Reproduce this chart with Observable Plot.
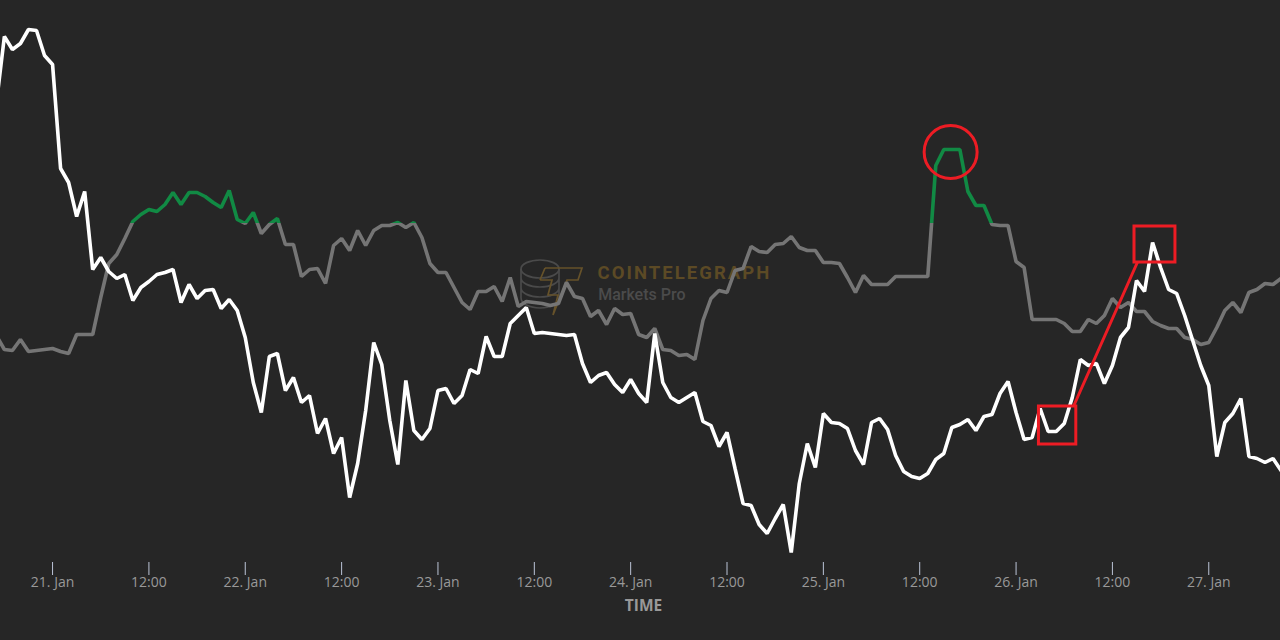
<!DOCTYPE html>
<html>
<head>
<meta charset="utf-8">
<script src="https://cdn.jsdelivr.net/npm/d3@7"></script>
<script src="https://cdn.jsdelivr.net/npm/@observablehq/plot@0.6"></script>
<style>
  html, body { margin: 0; padding: 0; background: #262626; width: 1280px; height: 640px; overflow: hidden; }
  #wrap { position: relative; width: 1280px; height: 640px; }
  #logo, #wrap svg.chart { position: absolute; left: 0; top: 0; }
</style>
</head>
<body>
<div id="wrap">
<svg id="logo" width="1280" height="640" fill="none" stroke-width="1.7">
  <g stroke="#4a4a4a">
    <ellipse cx="540" cy="269" rx="19" ry="9"/>
    <path d="M521 269V298M559 269V298M521 278a19 9 0 0 0 38 0M521 288a19 9 0 0 0 38 0M521 298a19 10 0 0 0 38 0"/>
  </g>
  <path stroke="#66522a" d="M545 268H582L578 280H567L553 315L558 295M540 280H552L548 295H559M545 268L540 280"/>
</svg>
</div>
<script>
const startTime = Date.UTC(2022, 0, 20, 17);
const domainStart = new Date(Date.UTC(2022, 0, 20, 17, 31));
const domainEnd = new Date(Date.UTC(2022, 0, 27, 8, 56));

const sentimentValues = [537,604,591,597,611,610,585,576,472,458,424,449,371,383,369,362,366,340,353,359,366,368,371,338,356,342,350,351,332,341,330,303,258,228,284,287,250,263,238,245,207,222,187,203,143,177,230,298,276,220,176,260,210,201,212,250,252,237,245,271,267,304,284,284,317,325,333,307,308,307,306,305,306,277,258,265,268,256,248,261,247,238,307,258,243,238,243,248,219,215,194,208,172,137,135,116,107,122,136,88,157,197,173,227,218,217,212,190,176,218,222,211,185,169,164,162,167,181,187,213,216,221,210,224,226,247,259,228,201,203,232,209,209,217,243,281,275,277,257,275,303,313,360,349,398,373,351,347,325,300,275,255,184,218,227,242,184,182,178,182,170];

const priceValues = [305,291,290,301,289,290,291,292,289,287,306,306,306,343,377,386,402,419,426,431,429,436,448,436,448,448,444,438,433,450,421,417,428,407,416,422,396,396,364,371,372,357,395,402,390,410,395,410,415,415,418,413,418,403,377,368,368,353,338,331,349,349,354,339,363,334,339,338,337,335,337,358,344,342,324,330,316,332,326,327,306,303,312,291,290,285,286,281,320,342,350,348,370,372,394,389,388,396,397,404,393,390,390,378,378,377,363,348,365,356,356,356,364,364,364,364,364,475,491,491,491,449,435,435,416,415,415,379,373,321,321,321,321,317,309,309,321,317,325,342,333,338,329,329,319,315,312,312,303,301,296,298,313,330,338,328,348,351,357,356,362];

const greenThreshold = 417.5;

const tickTimes = d3.range(0, 13).map(i => new Date(Date.UTC(2022, 0, 21, 12 * i)));
const tickLabels = ["21. Jan","12:00","22. Jan","12:00","23. Jan","12:00","24. Jan","12:00","25. Jan","12:00","26. Jan","12:00","27. Jan"];

const hourTime = h => new Date(Date.UTC(2022, 0, 21) + h * 3600e3);
const circleNote = [{t: hourTime(111.85), v: 488.5}];
const boxNotes = [
  {t1: hourTime(122.85), t2: hourTime(127.5), v1: 196, v2: 234},
  {t1: hourTime(134.75), t2: hourTime(139.85), v1: 378, v2: 414}
];
const connectorNote = [{t: hourTime(127.2), v: 235}, {t: hourTime(135.1), v: 378}];
const brandName = [{t: hourTime(67.87), v: 367, label: "COINTELEGRAPH"}];
const brandProduct = [{t: hourTime(67.95), v: 346, label: "Markets Pro"}];

const rows = sentimentValues.map((s, i) => ({
  time: new Date(startTime + i * 3600e3),
  sentiment: s,
  price: priceValues[i]
}));
const tickLabelOf = new Map(tickTimes.map((t, i) => [+t, tickLabels[i]]));

const thresholdGradient = (index, {y}) => {
  const offset = y(greenThreshold) / 640;
  const g = d3.create("svg:linearGradient")
    .attr("id", "thresholdStroke")
    .attr("gradientUnits", "userSpaceOnUse")
    .attr("x1", 0).attr("x2", 0).attr("y1", 0).attr("y2", 640);
  g.append("stop").attr("offset", offset).attr("stop-color", "#118a44");
  g.append("stop").attr("offset", offset).attr("stop-color", "#757575");
  return g.node();
};

const chart = Plot.plot({
  width: 1280,
  height: 640,
  marginTop: 0, marginLeft: 0, marginRight: 0, marginBottom: 78,
  style: {background: "transparent", color: "#999", fontFamily: "'Open Sans', sans-serif", overflow: "visible"},
  x: {type: "utc", domain: [domainStart, domainEnd], range: [0, 1280]},
  y: {domain: [0, 640], range: [640, 0], axis: null},
  marks: [
    thresholdGradient,
    Plot.text(brandName, {
      x: "t", y: "v", text: "label", textAnchor: "start",
      fontSize: 18.5, fontWeight: 700, fill: "#5c4a25", fontFamily: "Roboto, sans-serif"
    }),
    Plot.text(brandProduct, {
      x: "t", y: "v", text: "label", textAnchor: "start",
      fontSize: 16, fontWeight: 500, fill: "#4b4b4b", fontFamily: "Roboto, sans-serif"
    }),
    Plot.line(rows, {x: "time", y: "price", stroke: "url(#thresholdStroke)", strokeWidth: 3.6, strokeLinejoin: "miter"}),
    Plot.line(rows, {x: "time", y: "sentiment", stroke: "#ffffff", strokeWidth: 3.6, strokeLinejoin: "miter"}),
    Plot.dot(circleNote, {x: "t", y: "v", r: 26.5, stroke: "#ed1c24", strokeWidth: 3, fill: "none"}),
    Plot.rect(boxNotes, {x1: "t1", x2: "t2", y1: "v1", y2: "v2", stroke: "#ed1c24", strokeWidth: 3, fill: "none"}),
    Plot.line(connectorNote, {x: "t", y: "v", stroke: "#ed1c24", strokeWidth: 3}),
    Plot.axisX({
      ticks: tickTimes,
      tickFormat: d => tickLabelOf.get(+d),
      tickSize: 13,
      tickPadding: 2,
      stroke: "#ccd6eb",
      strokeOpacity: 0.9,
      fill: "#999",
      fontSize: 14,
      label: null
    }),
    Plot.text(["TIME"], {
      frameAnchor: "bottom", dx: 3, dy: 44,
      lineAnchor: "middle",
      fontSize: 15.5, fontWeight: 700, fill: "#999"
    })
  ]
});
chart.classList.add("chart");
chart.querySelectorAll("text").forEach(t => {
  if (t.textContent === "COINTELEGRAPH") t.style.letterSpacing = "2.05px";
});
document.getElementById("wrap").appendChild(chart);
</script>
</body>
</html>
